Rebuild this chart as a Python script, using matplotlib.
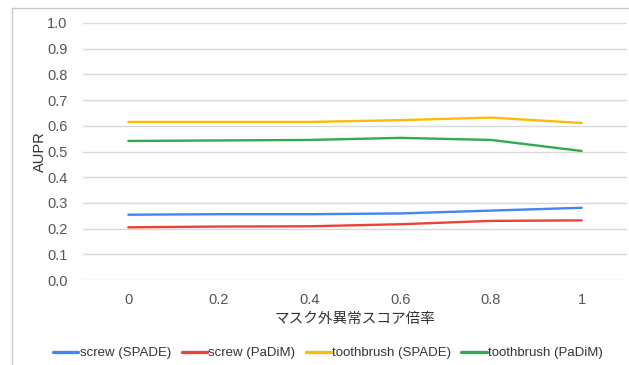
import matplotlib
import matplotlib.pyplot as plt
from matplotlib.lines import Line2D

matplotlib.use("Agg")
plt.rcParams["font.family"] = ["Liberation Sans", "Noto Sans CJK JP", "DejaVu Sans"]

# mask-outside anomaly score multiplier
ratios = ["0", "0.2", "0.4", "0.6", "0.8", "1"]

screw_spade = [0.254, 0.256, 0.256, 0.259, 0.270, 0.281]
screw_padim = [0.205, 0.208, 0.209, 0.217, 0.230, 0.232]
toothbrush_spade = [0.615, 0.615, 0.615, 0.622, 0.632, 0.611]
toothbrush_padim = [0.541, 0.543, 0.545, 0.553, 0.545, 0.502]

series = [
    ("screw (SPADE)", screw_spade, "#4285F4"),
    ("screw (PaDiM)", screw_padim, "#EA4335"),
    ("toothbrush (SPADE)", toothbrush_spade, "#FBBC04"),
    ("toothbrush (PaDiM)", toothbrush_padim, "#34A853"),
]

fig = plt.figure(figsize=(6.29, 3.65), dpi=100)
fig.patch.set_facecolor("white")
ax = fig.add_axes([83 / 629, 1 - 280 / 365, 544 / 629, 257 / 365])

x = list(range(len(ratios)))
for name, vals, color in series:
    ax.plot(x, vals, color=color, lw=1.7, label=name, solid_capstyle="round")

ax.set_xlim(-0.5, len(ratios) - 0.5)
ax.set_ylim(0, 1.0)
ax.set_yticks([i / 10 for i in range(11)])
ax.set_yticklabels([f"{i / 10:.1f}" for i in range(11)])
ax.set_xticks(x)
ax.set_xticklabels(ratios)
ax.tick_params(length=0, labelsize=10.5, colors="#555555")
ax.tick_params(axis="y", pad=11)
ax.tick_params(axis="x", pad=9)
ax.grid(axis="y", color="#d9d9d9", lw=1)
ax.set_axisbelow(True)
for s in ax.spines.values():
    s.set_visible(False)

ax.set_xlabel("マスク外異常スコア倍率", fontsize=10.5, color="#333333", labelpad=4)
ax.set_ylabel("AUPR", fontsize=10.5, color="#333333", labelpad=0)

leg = fig.legend(
    loc="center",
    bbox_to_anchor=(328 / 629, 1 - 353 / 365),
    ncol=4,
    frameon=False,
    fontsize=9.5,
    handlelength=1.9,
    handletextpad=0.1,
    columnspacing=0.8,
    labelcolor="#333333",
)
for h in leg.get_lines():
    h.set_linewidth(2.4)

# outer frame: left and top edges only
fig.add_artist(Line2D([12 / 629, 12 / 629], [0, 1 - 8 / 365], transform=fig.transFigure,
                      color="#c8c8c8", lw=1))
fig.add_artist(Line2D([12 / 629, 1], [1 - 8 / 365, 1 - 8 / 365], transform=fig.transFigure,
                      color="#c8c8c8", lw=1))

fig.savefig("out.png", dpi=100)
